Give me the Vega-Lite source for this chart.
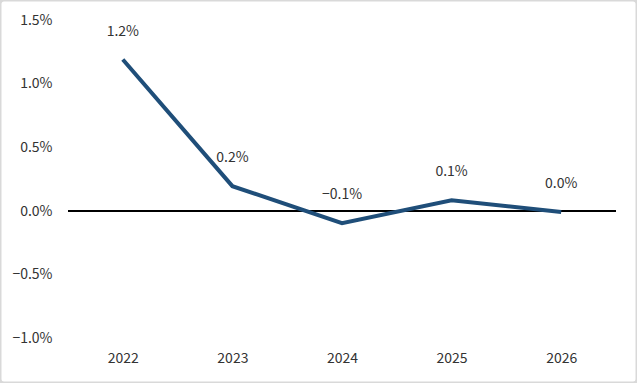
{
  "$schema": "https://vega.github.io/schema/vega-lite/v6.json",
  "width": 637,
  "height": 383,
  "autosize": "none",
  "padding": 0,
  "background": "white",
  "config": {
    "view": {"stroke": "#d9d9d9", "strokeWidth": 3, "cornerRadius": 4},
    "font": "Noto Sans CJK KR",
    "axis": {"grid": false, "domain": false, "ticks": false, "tickSize": 0, "labelFontSize": 14, "labelColor": "#333333", "title": null}
  },
  "data": {"values": [
    {"year": 2022, "value": 1.19, "label": "1.2%"},
    {"year": 2023, "value": 0.195, "label": "0.2%"},
    {"year": 2024, "value": -0.095, "label": "−0.1%"},
    {"year": 2025, "value": 0.085, "label": "0.1%"},
    {"year": 2026, "value": -0.008, "label": "0.0%"}
  ]},
  "encoding": {
    "x": {"field": "year", "type": "quantitative",
      "scale": {"domain": [2020.8796, 2026.6916], "nice": false, "zero": false},
      "axis": {"values": [2022, 2023, 2024, 2025, 2026], "format": "d", "offset": -46, "labelPadding": 14, "labelBaseline": "top", "labelFlush": false}},
    "y": {"field": "value", "type": "quantitative",
      "scale": {"domain": [-1.3511, 1.6575], "nice": false, "zero": false},
      "axis": {"values": [-1, -0.5, 0, 0.5, 1, 1.5], "format": ".1f", "labelExpr": "replace(format(datum.value, '.1f'), '-', '−') + '%'", "offset": -68, "labelPadding": 16, "labelFlush": false}}
  },
  "layer": [
    {
      "mark": {"type": "rule", "color": "#000000", "strokeWidth": 1.5},
      "encoding": {
        "x": {"datum": 2021.5, "type": "quantitative"},
        "x2": {"datum": 2026.5},
        "y": {"datum": 0, "type": "quantitative"}
      }
    },
    {
      "mark": {"type": "line", "color": "#1F4E79", "strokeWidth": 4, "strokeCap": "butt"}
    },
    {
      "mark": {"type": "text", "dy": -28, "fontSize": 14, "color": "#333333", "baseline": "middle", "align": "center"},
      "encoding": {"text": {"field": "label"}}
    }
  ]
}
